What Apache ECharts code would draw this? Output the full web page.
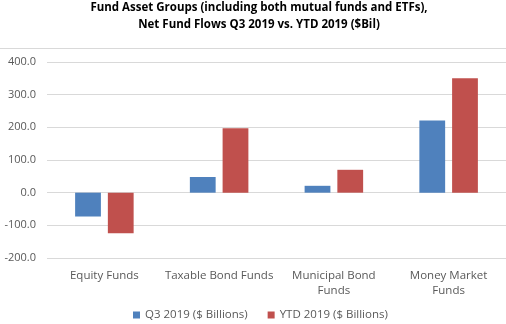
<!DOCTYPE html>
<html>
<head>
<meta charset="utf-8">
<script src="https://cdn.jsdelivr.net/npm/echarts@6/dist/echarts.min.js"></script>
<style>
  html, body { margin: 0; padding: 0; background: #ffffff; }
  #chart { width: 506px; height: 324px; }
</style>
</head>
<body>
<div id="chart"></div>
<script>
// Fund asset groups and net flows in $ billions
const categories = ['Equity Funds', 'Taxable Bond Funds', 'Municipal Bond\nFunds', 'Money Market\nFunds'];
const q3Values = [-73, 48, 21, 221];
const ytdValues = [-124, 197, 70, 350];
const seriesNames = ['Q3 2019 ($ Billions)', 'YTD 2019 ($ Billions)'];
const titleLines = ['Fund Asset Groups (including both mutual funds and ETFs),', 'Net Fund Flows Q3 2019 vs. YTD 2019 ($Bil)'];

const FONT = 'Open Sans';
const chart = echarts.init(document.getElementById('chart'), null, { renderer: 'canvas' });

// Two centred title lines, plus the thin rule under the title block
const titleGraphics = titleLines.map((line, i) => ({
  type: 'text',
  x: 259,
  y: 8 + i * 17,
  style: {
    text: line,
    fill: '#000000',
    font: 'bold 11.5px "' + FONT + '"',
    textAlign: 'center',
    textVerticalAlign: 'middle'
  }
}));

chart.setOption({
  animation: false,
  backgroundColor: '#ffffff',
  color: ['#4F81BD', '#C0504D'],
  graphic: titleGraphics.concat([{
    type: 'line',
    shape: { x1: 0, y1: 48.5, x2: 506, y2: 48.5 },
    style: { stroke: '#d9d9d9', lineWidth: 1 }
  }]),
  legend: {
    data: seriesNames,
    bottom: -2,
    left: 128,
    itemWidth: 7,
    itemHeight: 7,
    itemGap: 20,
    icon: 'rect',
    textStyle: { fontFamily: FONT, fontSize: 11.5, color: '#595959' }
  },
  grid: { left: 47, right: 0, top: 62, bottom: 66, containLabel: false },
  xAxis: {
    type: 'category',
    data: categories,
    axisLine: { show: false },
    axisTick: { show: false },
    axisLabel: { fontFamily: FONT, fontSize: 11.5, color: '#595959', margin: 10, lineHeight: 15, interval: 0 }
  },
  yAxis: {
    type: 'value',
    min: -200,
    max: 400,
    interval: 100,
    axisLine: { show: false },
    axisTick: { show: false },
    splitLine: { lineStyle: { color: '#d9d9d9', width: 1 } },
    axisLabel: {
      fontFamily: FONT, fontSize: 11, color: '#595959', margin: 11,
      formatter: v => v.toFixed(1)
    }
  },
  series: [
    { name: seriesNames[0], type: 'bar', data: q3Values, barGap: '27%', barCategoryGap: '49%' },
    { name: seriesNames[1], type: 'bar', data: ytdValues, barGap: '27%', barCategoryGap: '49%' }
  ]
});
</script>
</body>
</html>
